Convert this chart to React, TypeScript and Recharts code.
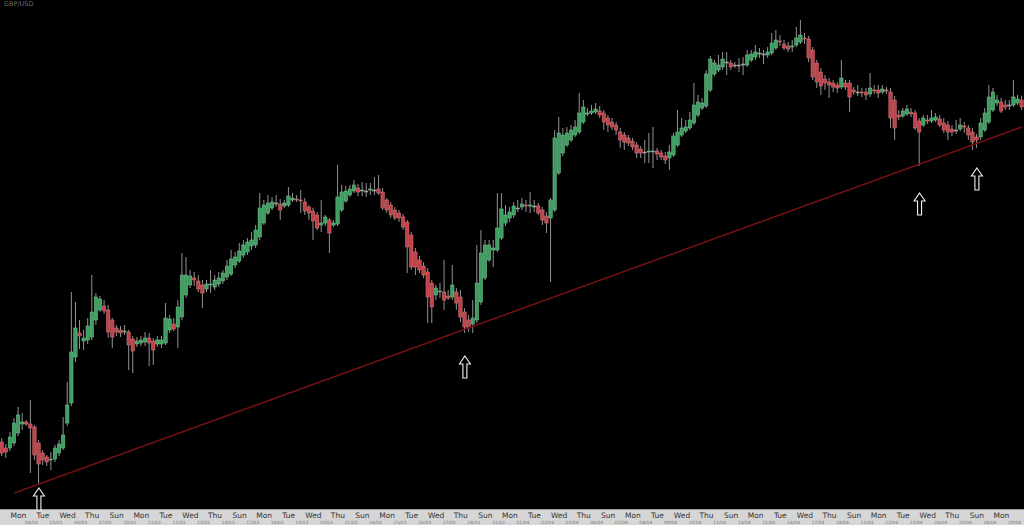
import React from 'react';
import { ComposedChart, Bar, XAxis, YAxis, ReferenceLine, ReferenceDot } from 'recharts';

// GBP/USD 4h candles, values in pips above 1.2000
const opens = [
  67, 61, 61, 66, 76, 85, 87, 85, 82, 66,
  56, 52, 49, 50, 56, 61, 86, 106, 152, 176,
  168, 169, 172, 189, 199, 203, 199, 189, 181, 179,
  177, 177, 170, 165, 166, 167, 171, 168, 165, 165,
  166, 179, 185, 182, 192, 214, 224, 231, 228, 224,
  220, 224, 222, 225, 228, 232, 235, 244, 248, 254,
  257, 263, 264, 272, 286, 296, 301, 306, 305, 303,
  304, 309, 310, 309, 307, 302, 298, 294, 284, 286,
  289, 284, 285, 299, 308, 314, 318, 321, 319, 318,
  319, 319, 320, 317, 309, 304, 299, 296, 292, 287,
  274, 257, 249, 243, 237, 226, 214, 217, 217, 213,
  212, 217, 212, 197, 189, 185, 189, 207, 231, 249,
  259, 259, 271, 286, 291, 294, 301, 302, 304, 303,
  303, 303, 299, 293, 291, 299, 336, 356, 364, 369,
  374, 377, 387, 396, 396, 397, 398, 396, 391, 387,
  384, 377, 374, 371, 368, 364, 360, 357, 357, 358,
  358, 356, 353, 351, 354, 364, 374, 378, 381, 386,
  394, 401, 403, 419, 435, 439, 442, 447, 446, 444,
  444, 445, 444, 449, 452, 456, 455, 454, 456, 461,
  468, 465, 463, 462, 464, 467, 471, 470, 459, 446,
  437, 430, 427, 426, 424, 422, 426, 426, 419, 417,
  417, 417, 415, 419, 419, 417, 419, 417, 409, 394,
  393, 395, 397, 396, 388, 384, 389, 388, 389, 390,
  386, 384, 380, 379, 380, 383, 381, 377, 372, 372,
  379, 387, 399, 406, 407, 404, 404, 404, 406, 409,
];
const highs = [
  71, 65, 77, 91, 102, 96, 89, 109, 84, 69,
  59, 54, 57, 64, 69, 92, 127, 217, 207, 189,
  179, 191, 234, 216, 213, 209, 204, 191, 184, 183,
  184, 179, 173, 172, 173, 177, 176, 171, 173, 173,
  206, 194, 191, 209, 256, 252, 239, 237, 234, 229,
  229, 239, 234, 237, 239, 249, 259, 257, 266, 269,
  271, 277, 284, 316, 309, 314, 312, 314, 310, 309,
  322, 316, 314, 319, 311, 304, 301, 297, 309, 294,
  291, 289, 344, 324, 323, 324, 329, 325, 327, 326,
  326, 332, 334, 321, 311, 307, 302, 299, 295, 289,
  277, 261, 253, 247, 241, 229, 224, 226, 249, 219,
  244, 221, 219, 201, 194, 209, 264, 279, 269, 269,
  269, 316, 316, 304, 302, 307, 309, 311, 309, 317,
  309, 306, 302, 297, 311, 379, 392, 381, 382, 384,
  389, 416, 409, 401, 404, 406, 403, 399, 394, 391,
  387, 381, 377, 374, 371, 367, 363, 369, 376, 382,
  361, 359, 357, 364, 376, 399, 391, 389, 397, 426,
  414, 411, 439, 453, 449, 454, 457, 457, 449, 447,
  451, 452, 459, 459, 464, 461, 459, 462, 476, 479,
  474, 469, 467, 469, 482, 489, 476, 473, 462, 449,
  441, 434, 431, 429, 427, 449, 429, 429, 422, 424,
  421, 421, 436, 424, 424, 424, 422, 421, 413, 399,
  401, 404, 401, 399, 391, 394, 394, 399, 396, 394,
  391, 388, 384, 389, 391, 387, 384, 381, 375, 391,
  401, 424, 421, 414, 411, 409, 409, 429, 414, 413,
];
const lows = [
  53, 51, 58, 63, 73, 79, 83, 36, 49, 24,
  44, 43, 39, 47, 53, 59, 83, 103, 147, 160,
  159, 165, 169, 184, 197, 195, 171, 161, 173, 172,
  174, 139, 136, 162, 163, 163, 143, 144, 162, 161,
  164, 176, 178, 161, 189, 211, 221, 223, 217, 201,
  217, 216, 219, 222, 225, 229, 233, 241, 246, 251,
  254, 259, 261, 269, 284, 294, 299, 302, 289, 301,
  302, 307, 307, 296, 294, 289, 269, 279, 277, 283,
  256, 282, 283, 297, 306, 312, 316, 313, 313, 312,
  314, 314, 314, 299, 296, 291, 289, 287, 279, 236,
  239, 234, 236, 231, 186, 186, 209, 211, 199, 209,
  209, 199, 187, 176, 177, 176, 186, 204, 229, 247,
  242, 257, 269, 283, 287, 291, 297, 299, 297, 296,
  297, 294, 284, 276, 227, 297, 334, 353, 362, 367,
  372, 375, 385, 393, 394, 395, 391, 379, 377, 379,
  374, 361, 359, 363, 359, 351, 351, 346, 346, 341,
  349, 349, 345, 339, 352, 362, 372, 376, 379, 384,
  392, 399, 401, 417, 433, 437, 439, 434, 439, 441,
  437, 434, 442, 447, 449, 451, 445, 451, 454, 459,
  463, 459, 457, 457, 462, 465, 465, 447, 429, 421,
  414, 419, 411, 417, 416, 420, 419, 397, 414, 413,
  412, 409, 412, 415, 411, 415, 415, 381, 369, 389,
  391, 393, 392, 379, 343, 382, 385, 386, 387, 382,
  376, 369, 373, 375, 378, 376, 369, 359, 361, 369,
  377, 385, 397, 403, 396, 399, 399, 402, 404, 399,
];
const closes = [
  56, 57, 72, 86, 94, 87, 85, 81, 54, 45,
  49, 47, 50, 61, 65, 74, 104, 157, 181, 173,
  171, 183, 197, 212, 210, 198, 177, 172, 177, 176,
  178, 164, 158, 168, 169, 171, 166, 159, 169, 169,
  191, 190, 180, 202, 234, 234, 233, 229, 220, 216,
  225, 225, 229, 231, 236, 243, 250, 252, 258, 264,
  267, 269, 279, 301, 304, 306, 307, 306, 299, 306,
  313, 311, 309, 308, 298, 296, 288, 281, 286, 292,
  276, 286, 312, 317, 318, 320, 324, 317, 319, 318,
  320, 319, 316, 301, 299, 294, 291, 291, 282, 262,
  242, 242, 239, 234, 212, 202, 221, 218, 209, 211,
  224, 206, 192, 182, 181, 191, 226, 256, 264, 264,
  261, 281, 300, 294, 297, 303, 301, 305, 303, 304,
  303, 296, 289, 286, 309, 371, 376, 374, 376, 379,
  382, 396, 402, 396, 398, 400, 394, 387, 384, 382,
  379, 369, 367, 366, 362, 356, 356, 357, 358, 358,
  355, 352, 349, 357, 373, 377, 381, 382, 389, 404,
  407, 406, 435, 450, 446, 444, 450, 447, 442, 444,
  444, 445, 454, 455, 457, 456, 455, 457, 466, 469,
  467, 461, 460, 463, 471, 474, 470, 451, 432, 427,
  423, 426, 424, 422, 421, 431, 422, 412, 417, 417,
  416, 414, 421, 418, 416, 420, 418, 391, 381, 392,
  398, 400, 395, 381, 377, 391, 388, 391, 392, 384,
  379, 377, 377, 379, 384, 382, 374, 367, 369, 386,
  396, 412, 417, 409, 398, 402, 404, 412, 410, 402,
];

const dayNames = [
  'Mon', 'Tue', 'Wed', 'Thu', 'Sun', 'Mon', 'Tue', 'Wed', 'Thu', 'Sun',
  'Mon', 'Tue', 'Wed', 'Thu', 'Sun', 'Mon', 'Tue', 'Wed', 'Thu', 'Sun',
  'Mon', 'Tue', 'Wed', 'Thu', 'Sun', 'Mon', 'Tue', 'Wed', 'Thu', 'Sun',
  'Mon', 'Tue', 'Wed', 'Thu', 'Sun', 'Mon', 'Tue', 'Wed', 'Thu', 'Sun',
  'Mon',
];
const dayDates = [
  '04/03', '05/03', '06/03', '07/03', '10/03', '11/03', '12/03', '13/03', '14/03', '17/03',
  '18/03', '19/03', '20/03', '21/03', '24/03', '25/03', '26/03', '27/03', '28/03', '31/03',
  '01/04', '02/04', '03/04', '04/04', '07/04', '08/04', '09/04', '10/04', '11/04', '14/04',
  '15/04', '16/04', '17/04', '18/04', '21/04', '22/04', '23/04', '24/04', '25/04', '28/04',
  '29/04',
];

// support line through the swing lows
const trendStart = { i: 3, pips: 16 };
const trendEnd = { i: 249, pips: 382 };

// arrows marking the touches
const arrowCandles = [9, 113, 224, 238];
const arrowTips = [21, 153, 316, 341];

const CANDLES_PER_DAY = 6;
const FIRST_LABEL = 4;

const rows = opens.map((o, i) => ({
  i,
  o,
  h: highs[i],
  l: lows[i],
  c: closes[i],
  range: [lows[i], highs[i]],
}));

const dayTicks = dayNames.map((_, k) => FIRST_LABEL + k * CANDLES_PER_DAY);

const Candle = (props: any) => {
  const { x, y, width, height, payload } = props;
  if (!payload) return null;
  const { o, h, l, c } = payload;
  const top = Math.min(y, y + height);
  const hgt = Math.abs(height);
  const span = h - l;
  const ratio = span > 0 ? hgt / span : 0;
  const yOf = (v: number) => top + (h - v) * ratio;
  const cx = x + width / 2;
  const bTop = yOf(Math.max(o, c));
  const bBot = yOf(Math.min(o, c));
  let fill = '#8c8c8c';
  let stroke = '#b0b0b0';
  if (c > o) {
    fill = '#3f9d62';
    stroke = '#78c993';
  } else if (c < o) {
    fill = '#c0424a';
    stroke = '#e07a7e';
  }
  return (
    <g>
      <line x1={cx} x2={cx} y1={top} y2={top + hgt} stroke="#939393" strokeWidth={1} />
      <rect
        x={x}
        y={bTop}
        width={width}
        height={Math.max(1, bBot - bTop)}
        fill={fill}
        stroke={stroke}
        strokeWidth={0.5}
      />
    </g>
  );
};

const Arrow = (props: any) => {
  const { cx, cy } = props;
  if (cx == null || cy == null) return null;
  const d = `M${cx},${cy} L${cx + 5.5},${cy + 8} L${cx + 2},${cy + 8} L${cx + 2},${cy + 22} L${cx - 2},${cy + 22} L${cx - 2},${cy + 8} L${cx - 5.5},${cy + 8} Z`;
  return <path d={d} fill="#000" stroke="#f2f2f2" strokeWidth={1.1} />;
};

const DayTick = (props: any) => {
  const { x, payload } = props;
  const k = (payload.value - FIRST_LABEL) / CANDLES_PER_DAY;
  return (
    <g>
      <text x={x} y={518} textAnchor="middle" fontSize={7.5} fill="#333" fontFamily="DejaVu Sans">
        {dayNames[k]}
      </text>
      <text x={x + 13} y={523.5} textAnchor="middle" fontSize={4.5} fill="#777" fontFamily="DejaVu Sans">
        {dayDates[k]}
      </text>
    </g>
  );
};

export default function App() {
  return (
    <div
      style={{
        position: 'absolute',
        left: 0,
        top: 0,
        width: 1024,
        height: 525,
        background: '#000',
        overflow: 'hidden',
      }}
    >
      <div
        style={{
          position: 'absolute',
          left: 0,
          top: 509,
          width: 1024,
          height: 16,
          background: '#d6d6d6',
          borderTop: '1px solid #9a9a9a',
          boxSizing: 'border-box',
        }}
      />
      <div
        style={{
          position: 'absolute',
          left: 4,
          top: 0,
          fontSize: 6.5,
          color: '#6a6a6a',
          fontFamily: 'DejaVu Sans',
        }}
      >
        GBP/USD
      </div>
      <ComposedChart
        width={1024}
        height={525}
        data={rows}
        margin={{ top: 0, right: 0, bottom: 0, left: 0 }}
        style={{ position: 'absolute', left: 0, top: 0 }}
      >
        <XAxis
          dataKey="i"
          type="category"
          height={16}
          axisLine={false}
          tickLine={false}
          ticks={dayTicks}
          interval={0}
          tick={<DayTick />}
        />
        <YAxis type="number" domain={[0, 509]} hide allowDataOverflow />
        <Bar dataKey="range" shape={Candle} barSize={3.4} isAnimationActive={false} />
        <ReferenceLine
          segment={[
            { x: trendStart.i, y: trendStart.pips },
            { x: trendEnd.i, y: trendEnd.pips },
          ]}
          stroke="#6e1014"
          strokeWidth={1.6}
          ifOverflow="visible"
        />
        {arrowCandles.map((idx, k) => (
          <ReferenceDot
            key={idx}
            x={idx}
            y={arrowTips[k]}
            r={5}
            ifOverflow="visible"
            shape={Arrow}
          />
        ))}
      </ComposedChart>
    </div>
  );
}
